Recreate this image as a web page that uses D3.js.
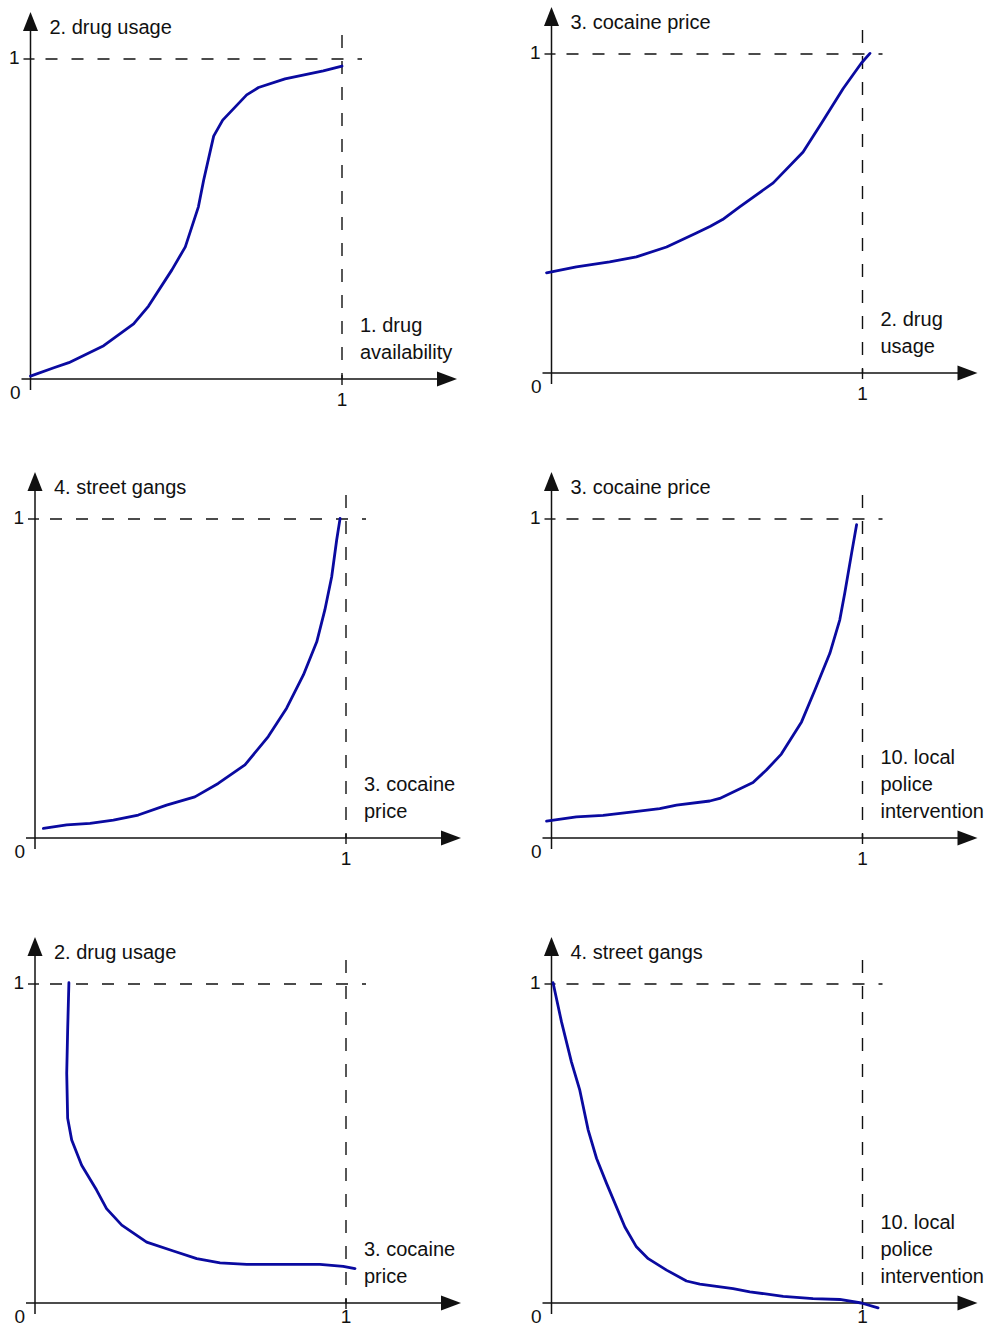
<!DOCTYPE html>
<html>
<head>
<meta charset="utf-8">
<script src="https://cdn.jsdelivr.net/npm/d3@7"></script>
<style>
  html, body { margin: 0; padding: 0; background: #fff; }
  svg text { font-family: "Liberation Sans", Arial, sans-serif; fill: #111; }
</style>
</head>
<body>
<svg id="chart" width="985" height="1329"></svg>
<script>
// ---- data (normalised 0..1 values) ----
const yAxisTitles = ["2. drug usage", "3. cocaine price", "4. street gangs", "3. cocaine price", "2. drug usage", "4. street gangs"];
const xAxisTitles = [
  ["1. drug", "availability"],
  ["2. drug", "usage"],
  ["3. cocaine", "price"],
  ["10. local", "police", "intervention"],
  ["3. cocaine", "price"],
  ["10. local", "police", "intervention"]
];
const tickZero = "0";
const tickOne = "1";

const usageByAvailability = [
  [0.000, 0.009], [0.075, 0.035], [0.123, 0.051], [0.235, 0.104], [0.331, 0.172],
  [0.379, 0.228], [0.454, 0.341], [0.497, 0.413], [0.539, 0.538], [0.556, 0.622],
  [0.588, 0.759], [0.617, 0.809], [0.694, 0.888], [0.732, 0.911], [0.817, 0.938],
  [0.940, 0.963], [1.000, 0.978]
];
const priceByUsage = [
  [-0.016, 0.314], [0.080, 0.333], [0.187, 0.348], [0.273, 0.364], [0.370, 0.395],
  [0.466, 0.439], [0.511, 0.460], [0.550, 0.481], [0.605, 0.521], [0.713, 0.596],
  [0.809, 0.693], [0.868, 0.783], [0.938, 0.892], [0.996, 0.971], [1.024, 1.002]
];
const gangsByPrice = [
  [0.027, 0.030], [0.102, 0.041], [0.177, 0.046], [0.252, 0.056], [0.332, 0.072],
  [0.423, 0.103], [0.514, 0.129], [0.589, 0.171], [0.675, 0.229], [0.750, 0.318],
  [0.809, 0.407], [0.863, 0.511], [0.906, 0.615], [0.932, 0.715], [0.954, 0.819],
  [0.970, 0.934], [0.981, 1.002]
];
const priceByPolice = [
  [-0.016, 0.053], [0.080, 0.066], [0.166, 0.071], [0.262, 0.082], [0.348, 0.092],
  [0.402, 0.103], [0.509, 0.116], [0.541, 0.124], [0.648, 0.174], [0.691, 0.213],
  [0.739, 0.263], [0.804, 0.364], [0.847, 0.464], [0.895, 0.579], [0.927, 0.684],
  [0.943, 0.768], [0.965, 0.893], [0.981, 0.982]
];
const usageByPrice = [
  [0.109, 1.004], [0.105, 0.856], [0.102, 0.720], [0.105, 0.579], [0.118, 0.511],
  [0.150, 0.432], [0.198, 0.354], [0.230, 0.296], [0.279, 0.244], [0.359, 0.191],
  [0.445, 0.163], [0.520, 0.139], [0.595, 0.126], [0.681, 0.121], [0.916, 0.121],
  [0.991, 0.115], [1.029, 0.108]
];
const gangsByPolice = [
  [0.005, 1.004], [0.032, 0.882], [0.064, 0.756], [0.091, 0.667], [0.118, 0.542],
  [0.145, 0.453], [0.177, 0.375], [0.236, 0.238], [0.273, 0.176], [0.311, 0.139],
  [0.370, 0.103], [0.434, 0.069], [0.477, 0.059], [0.584, 0.045], [0.638, 0.035],
  [0.745, 0.021], [0.841, 0.014], [0.927, 0.011], [0.996, 0.000], [1.050, -0.015]
];
const series = [usageByAvailability, priceByUsage, gangsByPrice, priceByPolice, usageByPrice, gangsByPolice];

// ---- layout (pixel frame of each panel: origin and position of value 1) ----
const frames = [
  { ox: 30.5,  oy: 379,  x1: 342,   y1: 59 },
  { ox: 551.5, oy: 373,  x1: 862.5, y1: 54 },
  { ox: 35,    oy: 838,  x1: 346,   y1: 519 },
  { ox: 551.5, oy: 838,  x1: 862.5, y1: 519 },
  { ox: 35,    oy: 1303, x1: 346,   y1: 984 },
  { ox: 551.5, oy: 1303, x1: 862.5, y1: 984 }
];

const svg = d3.select("#chart");
const H = 1329;
const curveColor = "#0a0aa0";
const axisColor = "#111";

frames.forEach((f, i) => {
  const x = d3.scaleLinear().domain([0, 1]).range([f.ox, f.x1]);
  const y = d3.scaleLinear().domain([0, 1]).range([f.oy, f.y1]);
  const g = svg.append("g");

  const x0 = x(0), y0 = y(0), xOne = x(1), yOne = y(1);

  // dashed guide lines at value 1
  g.append("line")
    .attr("x1", x0 + 15).attr("x2", xOne + 20)
    .attr("y1", yOne).attr("y2", yOne)
    .attr("stroke", axisColor).attr("stroke-width", 1.4)
    .attr("stroke-dasharray", "12,14");
  g.append("line")
    .attr("x1", xOne).attr("x2", xOne)
    .attr("y1", yOne - 24).attr("y2", y0)
    .attr("stroke", axisColor).attr("stroke-width", 1.4)
    .attr("stroke-dasharray", "13,13");

  // axes
  const arrowLen = 19, arrowHalf = 7.5;
  const yTop = yOne - 47;
  g.append("line")
    .attr("x1", x0).attr("x2", x0)
    .attr("y1", y0 + 11).attr("y2", yTop + arrowLen - 1)
    .attr("stroke", axisColor).attr("stroke-width", 1.5);
  g.append("path")
    .attr("d", `M${x0},${yTop} L${x0 - arrowHalf},${yTop + arrowLen} L${x0 + arrowHalf},${yTop + arrowLen} Z`)
    .attr("fill", axisColor);

  const xEnd = xOne + 115;
  g.append("line")
    .attr("x1", x0 - 9).attr("x2", xEnd - arrowLen + 1)
    .attr("y1", y0).attr("y2", y0)
    .attr("stroke", axisColor).attr("stroke-width", 1.5);
  g.append("path")
    .attr("d", `M${xEnd},${y0} L${xEnd - arrowLen - 1},${y0 - arrowHalf} L${xEnd - arrowLen - 1},${y0 + arrowHalf} Z`)
    .attr("fill", axisColor);

  // ticks at 1
  g.append("line")
    .attr("x1", x0 - 7).attr("x2", x0 + 4)
    .attr("y1", yOne).attr("y2", yOne)
    .attr("stroke", axisColor).attr("stroke-width", 1.4);
  g.append("line")
    .attr("x1", xOne).attr("x2", xOne)
    .attr("y1", y0 - 4).attr("y2", y0 + 6)
    .attr("stroke", axisColor).attr("stroke-width", 1.4);

  // tick labels
  g.append("text").attr("x", x0 - 10).attr("y", y0 + 20)
    .attr("text-anchor", "end").attr("font-size", 19).text(tickZero);
  g.append("text").attr("x", x0 - 11).attr("y", yOne + 5)
    .attr("text-anchor", "end").attr("font-size", 19).text(tickOne);
  g.append("text").attr("x", xOne).attr("y", Math.min(y0 + 27, H - 6))
    .attr("text-anchor", "middle").attr("font-size", 19).text(tickOne);

  // axis titles
  g.append("text").attr("x", x0 + 19).attr("y", yOne - 25)
    .attr("font-size", 20).text(yAxisTitles[i]);
  const lines = xAxisTitles[i];
  lines.forEach((t, k) => {
    g.append("text")
      .attr("x", xOne + 18)
      .attr("y", y0 - 20 - (lines.length - 1 - k) * 27)
      .attr("font-size", 20).text(t);
  });

  // curve
  const line = d3.line().x(d => x(d[0])).y(d => y(d[1]));
  g.append("path")
    .datum(series[i])
    .attr("d", line)
    .attr("fill", "none")
    .attr("stroke", curveColor)
    .attr("stroke-width", 2.8)
    .attr("stroke-linejoin", "round")
    .attr("stroke-linecap", "round");
});
</script>
</body>
</html>
